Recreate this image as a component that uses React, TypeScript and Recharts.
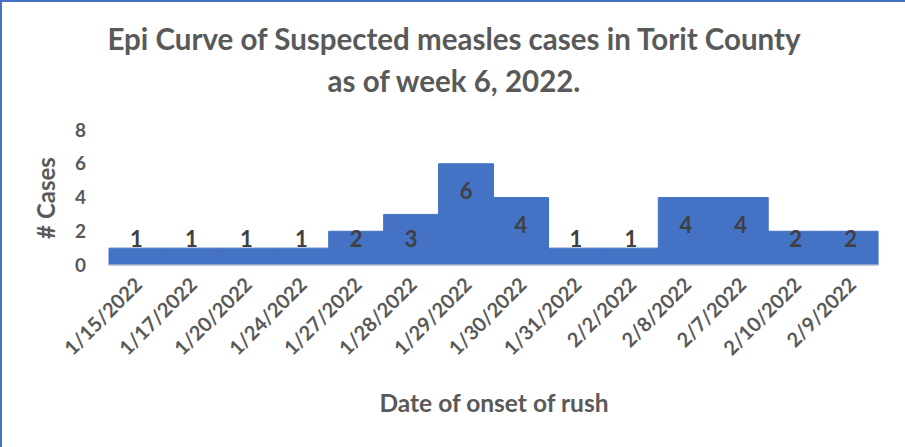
import { BarChart, Bar, XAxis, YAxis, LabelList } from "recharts";

const dates = [
  "1/15/2022", "1/17/2022", "1/20/2022", "1/24/2022", "1/27/2022", "1/28/2022", "1/29/2022",
  "1/30/2022", "1/31/2022", "2/2/2022", "2/8/2022", "2/7/2022", "2/10/2022", "2/9/2022",
];
const cases = [1, 1, 1, 1, 2, 3, 6, 4, 1, 1, 4, 4, 2, 2];
const yTicks = [0, 2, 4, 6, 8];

const FONT = "Lato, 'Open Sans', sans-serif";
const GREY = "#595959";
const BLUE = "#4472C4";

const data = dates.map((d, i) => ({ date: d, cases: cases[i] }));

// rotated date labels under each bar
function DateTick({ x, y, payload }: any) {
  return (
    <g transform={`translate(${x + 7},${y + 19})`}>
      <text
        textAnchor="end"
        transform="rotate(-45)"
        fontFamily={FONT}
        fontWeight={700}
        fontSize={20}
        fill={GREY}
      >
        {payload.value}
      </text>
    </g>
  );
}

// Excel "inside end" labels, pushed up when the bar is too short
function CaseLabel({ x, y, width, height, value }: any) {
  const cy = Math.min(y + 28, y + height - 26);
  return (
    <text
      x={x + width / 2}
      y={cy}
      dy="0.35em"
      textAnchor="middle"
      fontFamily={FONT}
      fontWeight={700}
      fontSize={22}
      fill="#404040"
    >
      {value}
    </text>
  );
}

export default function App() {
  return (
    <div
      style={{
        position: "absolute",
        left: 0,
        top: 0,
        width: 905,
        height: 447,
        background: "#fff",
        borderTop: `2px solid ${BLUE}`,
        borderLeft: `2px solid ${BLUE}`,
        boxSizing: "border-box",
        overflow: "hidden",
      }}
    >
      <div style={{ position: "absolute", left: -2, top: -2 }}>
        <BarChart
          width={905}
          height={447}
          data={data}
          barCategoryGap={0}
          margin={{ top: 130, right: 27, left: 0, bottom: 82 }}
        >
          <XAxis
            dataKey="date"
            interval={0}
            height={100}
            tickLine={false}
            tickSize={0}
            axisLine={{ stroke: "#D9D9D9" }}
            tick={<DateTick />}
          />
          <YAxis
            width={109}
            domain={[0, 8]}
            ticks={yTicks}
            axisLine={false}
            tickLine={false}
            tickSize={0}
            tickMargin={23}
            tick={{ fontFamily: FONT, fontWeight: 700, fontSize: 19, fill: GREY }}
          />
          <Bar dataKey="cases" fill={BLUE} stroke={BLUE} strokeWidth={1} isAnimationActive={false}>
            <LabelList dataKey="cases" content={<CaseLabel />} />
          </Bar>
        </BarChart>
      </div>
      <svg
        width={905}
        height={447}
        style={{ position: "absolute", left: -2, top: -2, pointerEvents: "none" }}
        fontFamily={FONT}
        fontWeight={700}
        fill={GREY}
      >
        <text x={454} y={50} textAnchor="middle" fontSize={29.5}>
          Epi Curve of Suspected measles cases in Torit County
        </text>
        <text x={454} y={92} textAnchor="middle" fontSize={29.5}>
          as of week 6, 2022.
        </text>
        <text x={494} y={412} textAnchor="middle" fontSize={24.5}>
          Date of onset of rush
        </text>
        <text x={55} y={198} textAnchor="middle" fontSize={24} transform="rotate(-90, 55, 198)">
          # Cases
        </text>
      </svg>
    </div>
  );
}
